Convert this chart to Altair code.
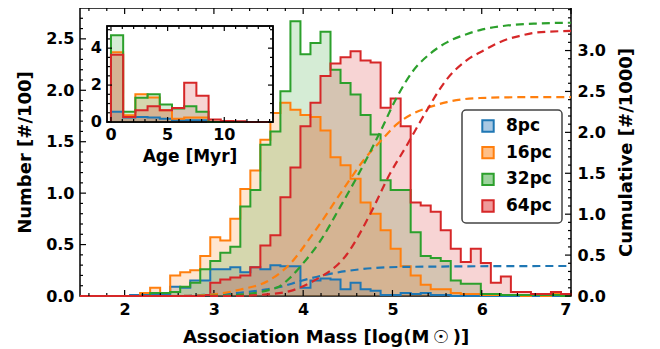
import altair as alt
import pandas as pd

# ---------------- data ----------------
NAMES = ["8pc", "16pc", "32pc", "64pc"]
COLORS = ["#1f77b4", "#ff7f0e", "#2ca02c", "#d62728"]
LIGHT = ["#a9c8e3", "#ffbf87", "#9dd39d", "#ef9a9a"]

MASS_LO, MASS_HI, N_BINS = 1.5, 7.0, 49

H_8 = [0, 0, 0, 0, 0, 0.01, 0.01, 0.02, 0.015, 0.09,
       0.08, 0.15, 0.15, 0.26, 0.26, 0.28, 0.23, 0.28, 0.26, 0.30,
       0.29, 0.29, 0.08, 0.15, 0.17, 0.16, 0.065, 0.13, 0.065, 0.05,
       0.01, 0.01, 0.03, 0.02, 0.03, 0.01, 0.01, 0, 0, 0,
       0, 0, 0, 0, 0, 0, 0, 0, 0]
H_16 = [0, 0, 0, 0, 0, 0, 0.03, 0.08, 0.03, 0.20,
        0.23, 0.25, 0.39, 0.57, 0.54, 0.75, 1.04, 1.22, 1.52, 1.78,
        1.88, 1.81, 1.76, 1.74, 1.61, 1.35, 1.27, 1.14, 0.91, 0.80,
        0.64, 0.46, 0.29, 0.20, 0.11, 0.065, 0.065, 0.03, 0.02, 0.02,
        0.01, 0.01, 0.01, 0.01, 0, 0.01, 0, 0.03, 0]
H_32 = [0, 0, 0, 0, 0, 0, 0, 0.03, 0.03, 0.04,
        0.09, 0.13, 0.26, 0.34, 0.42, 0.48, 0.87, 1.03, 1.47, 1.60,
        1.99, 2.67, 2.35, 2.46, 2.57, 2.20, 2.07, 1.96, 1.76, 1.57,
        1.125, 1.03, 1.03, 0.62, 0.39, 0.37, 0.34, 0.15, 0.12, 0.12,
        0.02, 0.02, 0.01, 0.01, 0.01, 0.01, 0.01, 0.01, 0]
H_64 = [0, 0, 0, 0, 0, 0, 0, 0, 0, 0,
        0, 0, 0.01, 0.13, 0.16, 0.18, 0.20, 0.28, 0.49, 0.59,
        0.96, 1.25, 1.65, 1.88, 2.14, 2.26, 2.32, 2.38, 2.29, 2.27,
        1.83, 1.92, 1.65, 0.91, 0.88, 0.82, 0.64, 0.46, 0.33, 0.46,
        0.32, 0.13, 0.19, 0.04, 0.04, 0.02, 0.02, 0.04, 0.02]
HIST = [H_8, H_16, H_32, H_64]

# cumulative curves (x in log mass, y in #/1000)
CX_8 = [1.5, 2.6, 2.99, 3.29, 3.59, 3.74, 3.96, 4.30, 4.67, 5.08, 5.53, 6.2, 7.0]
CY_8 = [0, 0, 0.02, 0.04, 0.08, 0.11, 0.18, 0.27, 0.33, 0.355, 0.36, 0.365, 0.367]
CX_16 = [1.5, 2.6, 3.0, 3.3, 3.6, 3.85, 4.11, 4.49, 4.67, 4.89, 5.05, 5.23, 5.42, 5.61, 5.98, 6.5, 7.0]
CY_16 = [0, 0, 0.02, 0.08, 0.18, 0.39, 0.76, 1.37, 1.65, 1.92, 2.10, 2.23, 2.31, 2.37, 2.42, 2.43, 2.43]
CX_32 = [1.5, 2.8, 3.21, 3.70, 3.85, 3.96, 4.19, 4.41, 4.64, 4.86, 5.05, 5.23, 5.42, 5.61, 5.83, 5.98, 6.24, 6.61, 7.0]
CY_32 = [0, 0, 0.01, 0.10, 0.22, 0.35, 0.67, 1.08, 1.53, 2.00, 2.43, 2.75, 2.96, 3.10, 3.20, 3.25, 3.30, 3.33, 3.34]
CX_64 = [1.5, 3.2, 3.59, 3.85, 4.11, 4.49, 4.75, 4.97, 5.16, 5.38, 5.61, 5.83, 6.02, 6.24, 6.43, 6.61, 7.0]
CY_64 = [0, 0, 0.02, 0.06, 0.18, 0.51, 1.00, 1.49, 1.84, 2.26, 2.65, 2.88, 3.00, 3.12, 3.18, 3.22, 3.24]
CUM = [(CX_8, CY_8), (CX_16, CY_16), (CX_32, CY_32), (CX_64, CY_64)]

# inset: age histograms (Myr)
AGE_LO, AGE_HI, N_AGE = 0.0, 14.0, 13
A_8 = [0.55, 0.24, 0.27, 0.24, 0.18, 0.09, 0.09, 0.09, 0, 0, 0, 0, 0]
A_16 = [3.78, 0.36, 1.50, 1.33, 0.64, 0.18, 0.24, 0.24, 0.02, 0, 0, 0, 0]
A_32 = [4.70, 0.55, 1.31, 1.50, 0.95, 0.73, 0.85, 0.55, 0, 0, 0, 0, 0]
A_64 = [3.64, 0.27, 0.64, 0.85, 0.64, 0.76, 2.13, 1.42, 0.13, 0.05, 0.04, 0, 0]
AGE = [A_8, A_16, A_32, A_64]

X_TICKS = [2, 3, 4, 5, 6, 7]
Y_TICKS = [0, 0.5, 1.0, 1.5, 2.0, 2.5]
C_TICKS = [0, 0.5, 1.0, 1.5, 2.0, 2.5, 3.0]
AX_TICKS = [0, 5, 10]
AY_TICKS = [0, 2, 4]

# ---------------- layout ----------------
W, H = 491, 288
FONT = "DejaVu Sans"
XDOM, YDOM, CDOM = [1.5, 7.0], [0, 2.80], [0, 3.52]
IX0, IX1, IY0, IY1 = 27, 193, 18, 114
AXDOM, AYDOM = [-0.35, 14.3], [0, 5.2]

xs = alt.Scale(domain=XDOM, nice=False, zero=False)
ys = alt.Scale(domain=YDOM, nice=False, zero=False)
cs = alt.Scale(domain=CDOM, nice=False, zero=False)
axs = alt.Scale(domain=AXDOM, range=[IX0, IX1], nice=False, zero=False)
ays = alt.Scale(domain=AYDOM, range=[IY1, IY0], nice=False, zero=False)
stroke_scale = alt.Scale(domain=NAMES, range=COLORS)


def step_frames(edges, series):
    area_rows, line_rows = [], []
    for name, vals in zip(NAMES, series):
        i = 0
        line_rows.append({"s": name, "x": edges[0], "v": 0, "i": i})
        for k, v in enumerate(vals):
            i += 1
            line_rows.append({"s": name, "x": edges[k], "v": v, "i": i})
            area_rows.append({"s": name, "x": edges[k], "v": v})
        line_rows.append({"s": name, "x": edges[-1], "v": vals[-1], "i": i + 1})
        line_rows.append({"s": name, "x": edges[-1], "v": 0, "i": i + 2})
        area_rows.append({"s": name, "x": edges[-1], "v": vals[-1]})
    return pd.DataFrame(area_rows), pd.DataFrame(line_rows)


edges = [MASS_LO + k * (MASS_HI - MASS_LO) / N_BINS for k in range(N_BINS + 1)]
age_edges = [AGE_LO + k * (AGE_HI - AGE_LO) / N_AGE for k in range(N_AGE + 1)]
h_area, h_line = step_frames(edges, HIST)
a_area, a_line = step_frames(age_edges, AGE)

cum_df = pd.DataFrame([{"s": n, "x": x, "c": c}
                       for n, (cx, cy) in zip(NAMES, CUM) for x, c in zip(cx, cy)])

# histogram fill + outline
hist_fill = alt.Chart(h_area).mark_area(interpolate="step-after", fillOpacity=0.2).encode(
    x=alt.X("x:Q", scale=xs, title="Association Mass [log(M\u2009\u2609\u2009)]",
            axis=alt.Axis(values=X_TICKS, format="d", ticks=False, tickSize=0, domain=False,
                          labelPadding=5, titlePadding=11, grid=False)),
    y=alt.Y("v:Q", scale=ys, stack=None, title="Number [#/100]",
            axis=alt.Axis(values=Y_TICKS, format=".1f", ticks=False, tickSize=0, domain=False,
                          labelPadding=6, titlePadding=11, grid=False)),
    fill=alt.Fill("s:N", scale=stroke_scale, legend=None),
    detail="s:N",
)
hist_line = alt.Chart(h_line).mark_line(interpolate="step-after", strokeWidth=2).encode(
    x=alt.X("x:Q", scale=xs, axis=None),
    y=alt.Y("v:Q", scale=ys, axis=None),
    stroke=alt.Stroke("s:N", scale=stroke_scale, legend=None),
    order="i:Q",
)
cum_line = alt.Chart(cum_df).mark_line(interpolate="monotone", strokeWidth=2.2,
                                       strokeDash=[8, 5]).encode(
    x=alt.X("x:Q", scale=xs, axis=None),
    y=alt.Y("c:Q", scale=cs, title="Cumulative [#/1000]",
            axis=alt.Axis(orient="right", values=C_TICKS, format=".1f", ticks=False,
                          tickSize=0, domain=False, labelPadding=6, titlePadding=12,
                          titleAngle=270, titleBaseline="top", grid=False)),
    stroke=alt.Stroke("s:N", scale=stroke_scale, legend=None),
)


def rules_x(vals, scale, y0, y1):
    return alt.Chart(pd.DataFrame({"t": vals})).mark_rule(color="black", strokeWidth=1.2).encode(
        x=alt.X("t:Q", scale=scale, axis=None), y=alt.value(y0), y2=alt.value(y1))


def rules_y(vals, scale, x0, x1):
    return alt.Chart(pd.DataFrame({"t": vals})).mark_rule(color="black", strokeWidth=1.2).encode(
        y=alt.Y("t:Q", scale=scale, axis=None), x=alt.value(x0), x2=alt.value(x1))


x_minor = [round(1.6 + 0.2 * k, 1) for k in range(28) if round(1.6 + 0.2 * k, 1) not in X_TICKS]
y_minor = [round(0.1 * k, 1) for k in range(1, 28) if round(0.1 * k, 1) not in Y_TICKS]
c_minor = [round(0.1 * k, 1) for k in range(1, 36) if round(0.1 * k, 1) not in C_TICKS]
ax_minor = [k for k in range(0, 15) if k not in AX_TICKS]
ay_minor = [0.5 * k for k in range(1, 11) if 0.5 * k not in AY_TICKS]

MJ, MN = 6, 3
ticks = [
    rules_x(X_TICKS, xs, H, H - MJ), rules_x(x_minor, xs, H, H - MN),
    rules_x(X_TICKS, xs, 0, MJ), rules_x(x_minor, xs, 0, MN),
    rules_y(Y_TICKS, ys, 0, MJ), rules_y(y_minor, ys, 0, MN),
    rules_y(C_TICKS, cs, W, W - MJ), rules_y(c_minor, cs, W, W - MN),
]

# inset
inset_bg = alt.Chart(pd.DataFrame({"a": [0]})).mark_rect(
    fill="white", stroke="black", strokeWidth=1.5).encode(
    x=alt.value(IX0), x2=alt.value(IX1), y=alt.value(IY0), y2=alt.value(IY1))
inset_fill = alt.Chart(a_area).mark_area(interpolate="step-after", fillOpacity=0.2).encode(
    x=alt.X("x:Q", scale=axs, axis=None),
    y=alt.Y("v:Q", scale=ays, stack=None, axis=None),
    fill=alt.Fill("s:N", scale=stroke_scale, legend=None),
    detail="s:N",
)
inset_line = alt.Chart(a_line).mark_line(interpolate="step-after", strokeWidth=2).encode(
    x=alt.X("x:Q", scale=axs, axis=None),
    y=alt.Y("v:Q", scale=ays, axis=None),
    stroke=alt.Stroke("s:N", scale=stroke_scale, legend=None),
    order="i:Q",
)
inset_frame = alt.Chart(pd.DataFrame({"a": [0]})).mark_rect(
    fill=None, stroke="black", strokeWidth=1.5).encode(
    x=alt.value(IX0), x2=alt.value(IX1), y=alt.value(IY0), y2=alt.value(IY1))
IMJ, IMN = 5, 3
inset_ticks = [
    rules_x(AX_TICKS, axs, IY1, IY1 - IMJ), rules_x(ax_minor, axs, IY1, IY1 - IMN),
    rules_x(AX_TICKS, axs, IY0, IY0 + IMJ), rules_x(ax_minor, axs, IY0, IY0 + IMN),
    rules_y(AY_TICKS, ays, IX0, IX0 + IMJ), rules_y(ay_minor, ays, IX0, IX0 + IMN),
    rules_y(AY_TICKS, ays, IX1, IX1 - IMJ), rules_y(ay_minor, ays, IX1, IX1 - IMN),
]
inset_xlab = alt.Chart(pd.DataFrame({"t": AX_TICKS})).mark_text(
    font=FONT, fontSize=16, fontWeight="bold", baseline="top", color="black").encode(
    x=alt.X("t:Q", scale=axs, axis=None), y=alt.value(IY1 + 5), text=alt.Text("t:Q", format="d"))
inset_ylab = alt.Chart(pd.DataFrame({"t": AY_TICKS})).mark_text(
    font=FONT, fontSize=16, fontWeight="bold", align="right", baseline="middle",
    color="black").encode(
    y=alt.Y("t:Q", scale=ays, axis=None), x=alt.value(IX0 - 5), text=alt.Text("t:Q", format="d"))
inset_title = alt.Chart(pd.DataFrame({"t": ["Age [Myr]"]})).mark_text(
    font=FONT, fontSize=17, fontWeight="bold", baseline="middle", color="black").encode(
    x=alt.value((IX0 + IX1) / 2), y=alt.value(IY1 + 35), text="t:N")

# legend
LX0, LX1, LY0, LY1 = 382, 482, 102, 215
leg_y = alt.Scale(type="point", domain=NAMES, range=[118, 198], padding=0)
leg_box = alt.Chart(pd.DataFrame({"a": [0]})).mark_rect(
    fill="white", stroke="#444444", strokeWidth=1.5, cornerRadius=4).encode(
    x=alt.value(LX0), x2=alt.value(LX1), y=alt.value(LY0), y2=alt.value(LY1))
leg_sym = alt.Chart(pd.DataFrame({"s": NAMES})).mark_square(size=130, strokeWidth=2,
                                                            opacity=1).encode(
    x=alt.value(408), y=alt.Y("s:N", scale=leg_y, axis=None),
    fill=alt.Fill("s:N", scale=alt.Scale(domain=NAMES, range=LIGHT), legend=None),
    stroke=alt.Stroke("s:N", scale=stroke_scale, legend=None),
)
leg_txt = alt.Chart(pd.DataFrame({"s": NAMES})).mark_text(
    font=FONT, fontSize=17, fontWeight="bold", align="left", baseline="middle",
    color="black").encode(
    x=alt.value(426), y=alt.Y("s:N", scale=leg_y, axis=None), text="s:N")

layers = [hist_fill, hist_line] + ticks + [cum_line, inset_bg, inset_fill, inset_line,
                                           inset_frame] + inset_ticks + \
         [inset_xlab, inset_ylab, inset_title, leg_box, leg_sym, leg_txt]

chart = alt.layer(*layers).resolve_scale(
    x="independent", y="independent", fill="independent", stroke="independent"
).properties(
    width=W, height=H,
    autosize=alt.AutoSizeParams(type="none"),
    padding={"left": 72, "top": 0, "right": 80, "bottom": 52},
).configure_view(stroke="black", strokeWidth=1.5).configure_axis(
    labelFont=FONT, titleFont=FONT, labelFontSize=16, titleFontSize=18,
    labelFontWeight="bold", titleFontWeight="bold", labelColor="black", titleColor="black",
)

chart.save("out.html", embed_options={"renderer": "svg", "actions": False})
